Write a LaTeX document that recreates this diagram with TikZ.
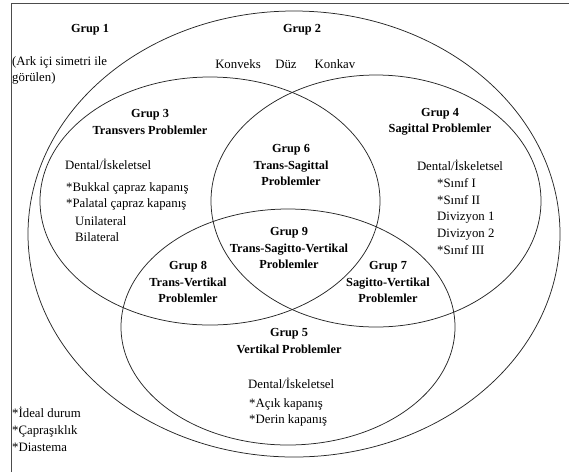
\documentclass[tikz,border=0pt]{standalone}
\usepackage{fontspec}
\setmainfont{Liberation Serif}
\begin{document}
\begin{tikzpicture}[x=1pt,y=-1pt,
  ring/.style={draw=black!85,line width=0.75pt},
  hd/.style={font=\fontsize{12.3}{16.5}\selectfont\bfseries,align=center,inner sep=0pt},
  tx/.style={font=\fontsize{12.8}{16.8}\selectfont,inner sep=0pt},
  txl/.style={tx,anchor=west,align=left}]
\useasboundingbox (0,0) rectangle (569,472);
% frame (top and left edges visible)
\draw[draw=black!70,line width=1pt] (11,472) -- (11,3) -- (569,3);
% ellipses
\draw[ring] (294,234) ellipse [x radius=266pt, y radius=223pt];
\draw[ring] (210,201) ellipse [x radius=170pt, y radius=124pt];
\draw[ring] (376,201) ellipse [x radius=165pt, y radius=126pt];
\draw[ring] (288,327) ellipse [x radius=167pt, y radius=118pt];
% Group 1
\node[hd] (g1) at (90,30) {Grup 1};
\node[txl,anchor=north west] (g1t) at (12,56) {(Ark içi simetri ile\\görülen)};
\node[txl,anchor=north west] (g1b) at (12,407) {*İdeal durum\\*Çapraşıklık\\*Diastema};
% Group 2
\node[hd] (g2) at (302,30) {Grup 2};
\node[tx] (kv) at (238,64) {Konveks};
\node[tx] (dz) at (286,64) {Düz};
\node[tx] (kk) at (335,64) {Konkav};
% Group 3
\node[hd] (g3) at (150,122) {Grup 3\\Transvers Problemler};
\node[txl] (g3d) at (65,164) {Dental/İskeletsel};
\node[txl,anchor=north west] (g3a) at (66,182) {*Bukkal çapraz kapanış\\*Palatal çapraz kapanış};
\node[txl,anchor=north west] (g3b) at (75,216) {Unilateral\\Bilateral};
% Group 4
\node[hd] (g4) at (440,122) {Grup 4\\Sagittal Problemler};
\node[tx] (g4d) at (460,165) {Dental/İskeletsel};
\node[txl,anchor=north west] (g4a) at (437,178) {*Sınıf I\\*Sınıf II\\Divizyon 1\\Divizyon 2\\*Sınıf III};
% Group 6
\node[hd] (g6) at (291,165) {Grup 6\\Trans-Sagittal\\Problemler};
% Group 9
\node[hd] (g9) at (289,248) {Grup 9\\Trans-Sagitto-Vertikal\\Problemler};
% Group 8
\node[hd] (g8) at (188,282) {Grup 8\\Trans-Vertikal\\Problemler};
% Group 7
\node[hd] (g7) at (388,282) {Grup 7\\Sagitto-Vertikal\\Problemler};
% Group 5
\node[hd] (g5) at (289,341) {Grup 5\\Vertikal Problemler};
\node[txl] (g5d) at (248,383) {Dental/İskeletsel};
\node[txl,anchor=north west] (g5a) at (249,398) {*Açık kapanış\\*Derin kapanış};
\end{tikzpicture}
\end{document}
